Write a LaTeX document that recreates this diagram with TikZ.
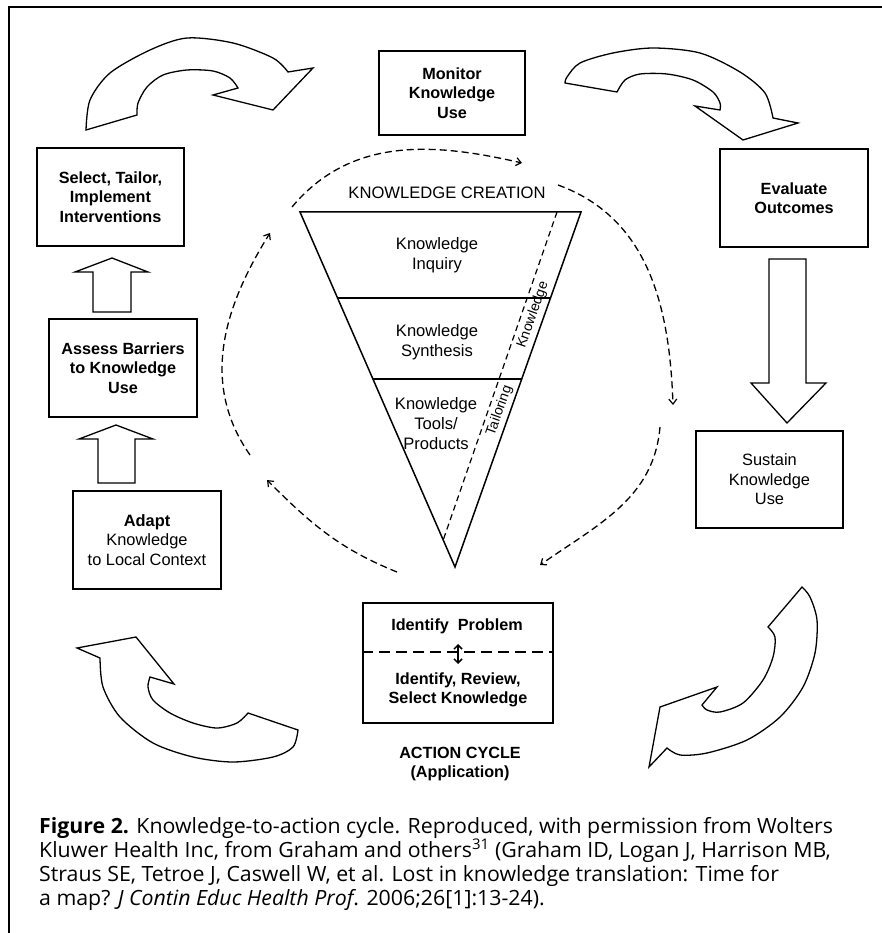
\documentclass[tikz,border=0pt]{standalone}
\usepackage{fontspec}
\setmainfont{Liberation Sans}
\newfontfamily\capfont[FakeStretch=1.015]{Open Sans}
\usetikzlibrary{arrows.meta,calc}
\tikzset{
  bx/.style={draw, line width=1.3pt, inner sep=0pt, align=center, font=\fontsize{16.4}{19.5}\selectfont},
  bxb/.style={bx, font=\fontsize{16.2}{19.5}\selectfont\bfseries},
  lbl/.style={align=center, inner sep=0pt, font=\fontsize{16.6}{20}\selectfont},
  lblb/.style={align=center, inner sep=0pt, font=\fontsize{16.2}{19.5}\selectfont\bfseries},
  blk/.style={draw, line width=1.3pt, line join=miter},
  barb/.tip={Straight Barb[length=5pt,width=8pt,line width=1.2pt]},
  dsh/.style={line width=1.3pt, dash pattern=on 7pt off 4pt, -barb},
  rottext/.style={inner sep=0pt, rotate=70.5, font=\fontsize{14}{14}\selectfont},
  captext/.style={anchor=base west, inner sep=0pt, font=\capfont\fontsize{21}{24}\selectfont},
}
\begin{document}
\begin{tikzpicture}[x=1pt,y=-1pt]
\useasboundingbox (0,0) rectangle (882,933);
\fill[white] (0,0) rectangle (882,933);
% frame
\draw[line width=1.2pt] (9,933) -- (9,7) -- (882,7);

% boxes
\node[bxb, minimum width=146pt, minimum height=84pt] (mon) at (452,93) {Monitor\\Knowledge\\Use};
\node[bxb, minimum width=147pt, minimum height=98pt] (sel) at (110.5,197) {Select, Tailor,\\Implement\\Interventions};
\node[bxb, minimum width=148pt, minimum height=98pt] (eva) at (794,198) {Evaluate\\Outcomes};
\node[bxb, minimum width=148pt, minimum height=98pt] (ass) at (123,368) {Assess Barriers\\to Knowledge\\Use};
\node[bx, minimum width=148pt, minimum height=98pt] (ada) at (147,540) {\textbf{Adapt}\\Knowledge\\to Local Context};
\node[bx, minimum width=147pt, minimum height=97pt] (sus) at (769.5,479.5) {Sustain\\Knowledge\\Use};

% straight block arrows
\draw[blk] (98,483) -- (98,439) -- (79,439) -- (116,425) -- (153,439) -- (135,439) -- (135,483) -- cycle;
\draw[blk] (93,312) -- (93,272) -- (75,272) -- (112,258) -- (148,272) -- (131,272) -- (131,312) -- cycle;
\draw[blk] (769,259) -- (769,383) -- (751,383) -- (787,423) -- (826,383) -- (806,383) -- (806,259) -- cycle;

% curved block arrows
\draw[blk] (86,130) -- plot[smooth] coordinates {(86,130) (90,100) (110,73) (150,50) (187,38) (233,43) (273,58) (288,72)}
  -- (313,68) -- (273,110) -- (213,95) -- (238,88)
  -- plot[smooth] coordinates {(238,88) (230,78) (213,71) (187,70) (163,75) (147,87) (138,103) (137,115)} -- cycle;
\draw[blk] (565,83) -- plot[smooth] coordinates {(565,83) (567,77) (580,63) (613,53) (653,48) (700,53) (740,72) (765,93) (773,118)}
  -- (798,123) -- (743,140) -- (695,106) -- (720,110)
  -- plot[smooth] coordinates {(720,110) (720,103) (713,92) (693,80) (667,74) (640,74) (625,80) (617,92)} -- cycle;
\draw[blk] (77,648) -- (136,637) -- (174,684) -- (150,677)
  -- plot[smooth] coordinates {(150,677) (148,687) (153,700) (170,713) (193,723) (217,728) (237,723) (248,713)}
  -- (298,730)
  -- plot[smooth] coordinates {(298,730) (293,747) (273,757) (233,762) (193,757) (153,743) (120,717) (103,687) (100,658)} -- cycle;
\draw[blk] (802,587) -- plot[smooth] coordinates {(802,587) (810,597) (817,620) (815,653) (803,687) (780,717) (747,740) (707,753) (680,755) (667,748)}
  -- (649,767) -- (660,707) -- (717,687) -- (702,705)
  -- plot[smooth] coordinates {(702,705) (707,710) (720,712) (743,703) (763,680) (773,657) (775,637) (768,627)} -- cycle;

% knowledge creation funnel
\coordinate (tl) at (300,212);
\coordinate (tr) at (581,212);
\coordinate (ap) at (455,567);
\draw[line width=1.5pt, line join=miter] (tl) -- (tr) -- (ap) -- cycle;
\draw[line width=1.3pt] (337.5,298) -- (550.5,298);
\draw[line width=1.3pt] (372.9,379) -- (521.7,379);
\draw[line width=1.2pt, dash pattern=on 6pt off 4pt] (557,212) -- (443.2,540);
\node[lbl] (kc) at (447,193) {KNOWLEDGE CREATION};
\node[lbl] (ki) at (437,255) {Knowledge\\Inquiry};
\node[lbl] (ks) at (437,342) {Knowledge\\Synthesis};
\node[lbl] (kt) at (436,424) {Knowledge\\Tools/\\Products};
\node[rottext] (kw) at (533,315) {Knowledge};
\node[rottext] (tg) at (499.5,411) {Tailoring};

% dashed cycle arcs
\coordinate (a1s) at (292,207); \coordinate (a1e) at (522,163);
\coordinate (a2s) at (558,185); \coordinate (a2e) at (673,405);
\coordinate (a3s) at (660,427); \coordinate (a3e) at (540,565);
\coordinate (a4s) at (397,572); \coordinate (a4e) at (267,480);
\coordinate (a5s) at (250,455); \coordinate (a5e) at (270,233);
\draw[dsh] (a1s) to[out=50,in=167] (a1e);
\draw[dsh] (a2s) to[out=-20,in=92] (a2e);
\draw[dsh] (a3s) to[out=-95,in=35] (a3e);
\draw[dsh] (a4s) to[out=158,in=-45] (a4e);
\draw[dsh] (a5s) to[out=125,in=-122] (a5e);

% action cycle box
\node[draw, line width=2.5pt, minimum width=190pt, minimum height=120pt, inner sep=0pt] (act) at (458,663) {};
\draw[line width=2pt, dash pattern=on 11pt off 6pt] (act.west |- 0,652) -- (act.east |- 0,652);
\draw[line width=1.5pt, {Straight Barb[length=4pt,width=8pt]}-{Straight Barb[length=4pt,width=8pt]}] (458,644) -- (458,664);
\node[lblb] (ip) at (457,626) {Identify\ \ Problem};
\node[lblb] (irs) at (458,690) {Identify, Review,\\Select Knowledge};
\node[lblb] (ac) at (460,764) {ACTION CYCLE\\(Application)};

% caption
\node[captext] (c1) at (39,833) {\textbf{Figure 2.} Knowledge-to-action cycle. Reproduced, with permission from Wolters};
\node[captext] (c2) at (39,857) {Kluwer Health Inc, from Graham and others\textsuperscript{31} (Graham ID, Logan J, Harrison MB,};
\node[captext] (c3) at (39,881) {Straus SE, Tetroe J, Caswell W, et al. Lost in knowledge translation: Time for};
\node[captext] (c4) at (39,905) {a map? \textit{J Contin Educ Health Prof}. 2006;26[1]:13-24).};
\end{tikzpicture}
\end{document}
